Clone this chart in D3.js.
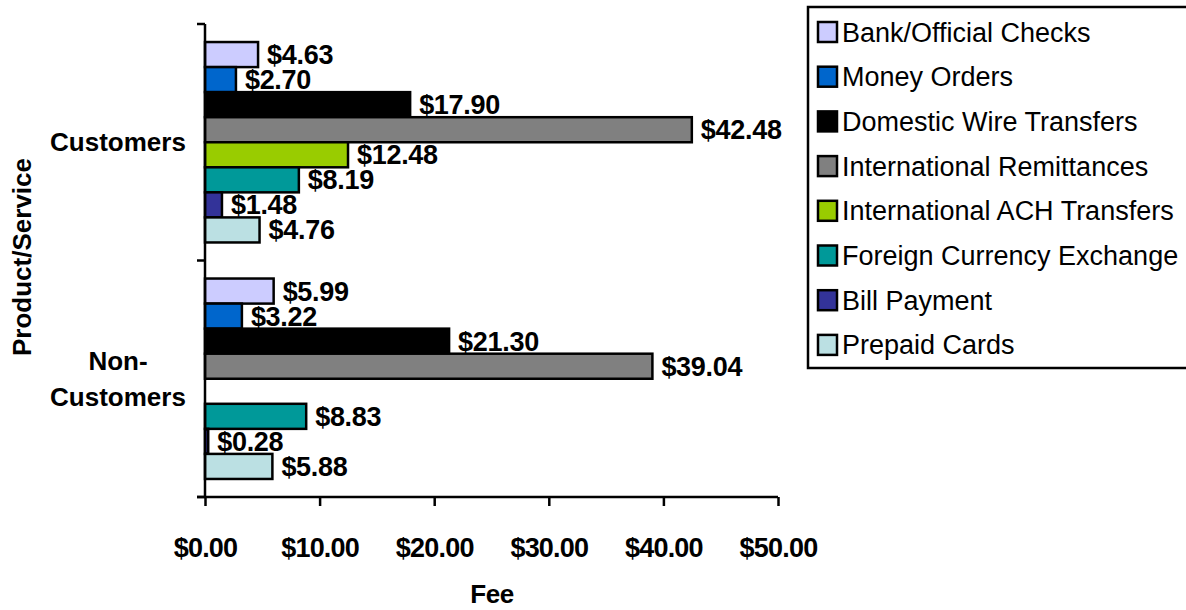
<!DOCTYPE html>
<html><head><meta charset="utf-8">
<script src="https://cdn.jsdelivr.net/npm/d3@7"></script>
<style>
body{margin:0;background:#fff;}
text{font-family:"Liberation Sans",Arial,sans-serif;}
</style></head>
<body>
<svg id="chart" width="1186" height="610"></svg>
<script>
const categories = ["Customers", "Non-Customers"];
const series = ["Bank/Official Checks","Money Orders","Domestic Wire Transfers","International Remittances","International ACH Transfers","Foreign Currency Exchange","Bill Payment","Prepaid Cards"];
const customersValues = [4.63, 2.70, 17.90, 42.48, 12.48, 8.19, 1.48, 4.76];
const nonCustomersValues = [5.99, 3.22, 21.30, 39.04, null, 8.83, 0.28, 5.88];
const colors = ["#CCCCFF","#0066CC","#000000","#808080","#99CC00","#009999","#333399","#BBE0E3"];
const xTicks = [0, 10, 20, 30, 40, 50];

(function(){
const svg = d3.select("#chart");
const pLeft = 205, pRight = 778, pTop = 24, pBottom = 497;

const x = d3.scaleLinear().domain([0, 50]).range([pLeft, pRight]);
const y0 = d3.scaleBand().domain(categories).range([pTop, pBottom]).padding(0);
const y1 = d3.scaleBand().domain(series).range([0, y0.bandwidth()]).paddingInner(0).paddingOuter(0.72);

const data = [];
categories.forEach((c, ci) => {
  const vals = ci === 0 ? customersValues : nonCustomersValues;
  series.forEach((s, si) => {
    if (vals[si] != null) data.push({cat: c, s, v: vals[si], color: colors[si]});
  });
});

// labels first (bars drawn over them)
svg.append("g").selectAll("text").data(data).join("text")
  .attr("x", d => x(d.v) + 9)
  .attr("y", d => y0(d.cat) + y1(d.s) + y1.bandwidth() / 2 + 9.5)
  .attr("font-size", 27).attr("font-weight", "bold").attr("letter-spacing", -0.3)
  .text(d => "$" + d.v.toFixed(2));

svg.append("g").selectAll("rect").data(data).join("rect")
  .attr("x", x(0))
  .attr("y", d => y0(d.cat) + y1(d.s))
  .attr("width", d => x(d.v) - x(0))
  .attr("height", y1.bandwidth())
  .attr("fill", d => d.color)
  .attr("stroke", "#000").attr("stroke-width", 2.5);

// x axis
const xAxis = svg.append("g").attr("transform", `translate(0,${pBottom})`)
  .call(d3.axisBottom(x).tickValues(xTicks).tickSize(9).tickSizeOuter(0).tickFormat(d => "$" + d.toFixed(2)));
xAxis.select(".domain").attr("stroke-width", 2.5).attr("d", `M${pLeft - 8},0H${pRight}`);
xAxis.selectAll(".tick line").attr("stroke-width", 2.5);
xAxis.selectAll(".tick text").attr("font-size", 27).attr("font-weight", "bold")
  .attr("font-family", "Liberation Sans, Arial, sans-serif").attr("letter-spacing", -0.8).attr("dy", null).attr("y", 60);

// y axis
const yAxis = svg.append("g").attr("transform", `translate(${pLeft},0)`);
yAxis.append("line").attr("x1", 0).attr("x2", 0).attr("y1", pTop).attr("y2", pBottom).attr("stroke", "#000").attr("stroke-width", 2.5);
const boundaries = [pTop, ...categories.slice(1).map(c => y0(c)), pBottom];
yAxis.selectAll("line.t").data(boundaries).join("line").attr("class", "t")
  .attr("x1", -8).attr("x2", 0).attr("y1", d => d).attr("y2", d => d)
  .attr("stroke", "#000").attr("stroke-width", 2.5);

// category labels
const catLines = {"Customers": ["Customers"], "Non-Customers": ["Non-", "Customers"]};
categories.forEach(c => {
  const lines = catLines[c];
  const cy = y0(c) + y0.bandwidth() / 2;
  lines.forEach((l, i) => {
    svg.append("text").attr("x", 118).attr("y", cy + (i - (lines.length - 1) / 2) * 36 + 9)
      .attr("text-anchor", "middle").attr("font-size", 26).attr("font-weight", "bold").text(l);
  });
});

// axis titles
svg.append("text").attr("x", 492).attr("y", 603).attr("text-anchor", "middle")
  .attr("font-size", 26).attr("font-weight", "bold").attr("letter-spacing", -0.5).text("Fee");
svg.append("text").attr("transform", "translate(31,257) rotate(-90)").attr("text-anchor", "middle")
  .attr("font-size", 26).attr("font-weight", "bold").text("Product/Service");

// legend
const lg = svg.append("g");
lg.append("rect").attr("x", 808).attr("y", 7).attr("width", 400).attr("height", 361)
  .attr("fill", "#fff").attr("stroke", "#000").attr("stroke-width", 2.5);
series.forEach((s, i) => {
  const cy = 32 + i * 44.7;
  lg.append("rect").attr("x", 818).attr("y", cy - 10).attr("width", 19).attr("height", 20)
    .attr("fill", colors[i]).attr("stroke", "#000").attr("stroke-width", 2.5);
  lg.append("text").attr("x", 842).attr("y", cy + 9.5).attr("font-size", 27).text(s);
});
})();
</script>
</body></html>
